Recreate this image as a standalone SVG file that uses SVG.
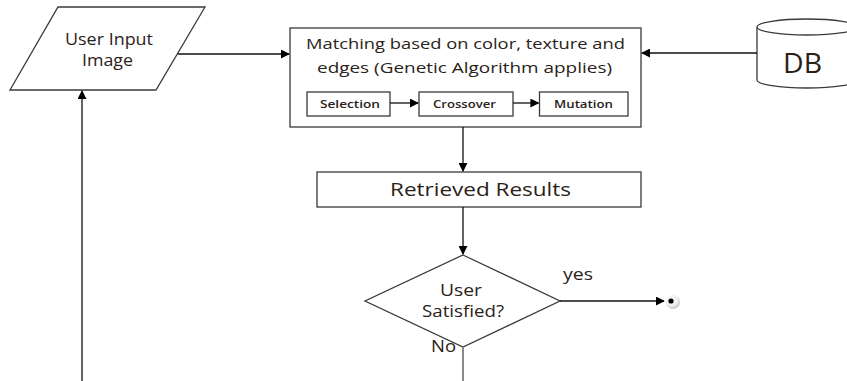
<svg xmlns="http://www.w3.org/2000/svg" width="847" height="381" viewBox="0 0 847 381">
  <style>
    .shape { fill: #ffffff; stroke: #3a3a3a; stroke-width: 1.3; }
    .edge { fill: none; stroke: #111111; stroke-width: 1.3; }
    .edge-grey { fill: none; stroke: #8a8a8a; stroke-width: 2; }
    .label { font-family: "Open Sans", "Liberation Sans", sans-serif; fill: #2a2218; text-anchor: middle; }
    .step { font-weight: 600; font-size: 11.5px; }
  </style>
  <defs>
    <marker id="arrow" viewBox="0 0 10 10" refX="9" refY="5" markerWidth="9" markerHeight="9" markerUnits="userSpaceOnUse" orient="auto">
      <path d="M0,0 L10,5 L0,10 Z" fill="#000000"/>
    </marker>
    <radialGradient id="endShade" cx="0.4" cy="0.35" r="0.7">
      <stop offset="0" stop-color="#ffffff"/>
      <stop offset="0.6" stop-color="#eeeeee"/>
      <stop offset="1" stop-color="#bdbdbd"/>
    </radialGradient>
  </defs>

  <!-- input parallelogram -->
  <g id="user-input">
    <polygon class="shape" points="58,7 205,7 156,90 10,90"/>
    <text class="label" x="109" y="45" font-size="16" textLength="88" lengthAdjust="spacingAndGlyphs">User Input</text>
    <text class="label" x="107.5" y="66" font-size="16" textLength="51" lengthAdjust="spacingAndGlyphs">Image</text>
  </g>

  <!-- matching process -->
  <g id="matching">
    <rect class="shape" x="290" y="28" width="351" height="99"/>
    <text class="label" x="465.5" y="48.5" font-size="15" textLength="319" lengthAdjust="spacingAndGlyphs">Matching based on color, texture and</text>
    <text class="label" x="464.5" y="73" font-size="15" textLength="295" lengthAdjust="spacingAndGlyphs">edges (Genetic Algorithm applies)</text>
  </g>
  <g id="selection">
    <rect class="shape" x="307" y="92" width="83" height="24"/>
    <text class="label step" x="350" y="107.5" textLength="60" lengthAdjust="spacingAndGlyphs">Selection</text>
  </g>
  <g id="crossover">
    <rect class="shape" x="419" y="92" width="94" height="24"/>
    <text class="label step" x="464.5" y="107.5" textLength="63" lengthAdjust="spacingAndGlyphs">Crossover</text>
  </g>
  <g id="mutation">
    <rect class="shape" x="539.5" y="92" width="88.5" height="24"/>
    <text class="label step" x="583.5" y="107.5" textLength="59" lengthAdjust="spacingAndGlyphs">Mutation</text>
  </g>

  <!-- database -->
  <g id="db">
    <path class="shape" d="M757,27 L757,80 A50,8 0 0 0 857,80 L857,27"/>
    <ellipse class="shape" cx="807" cy="27" rx="50" ry="8"/>
    <text class="label" x="802.5" y="73" font-size="28" textLength="39" lengthAdjust="spacingAndGlyphs">DB</text>
  </g>

  <!-- results -->
  <g id="results">
    <rect class="shape" x="317" y="172" width="324" height="35"/>
    <text class="label" x="480.5" y="196" font-size="18" textLength="181" lengthAdjust="spacingAndGlyphs">Retrieved Results</text>
  </g>

  <!-- decision -->
  <g id="decision">
    <polygon class="shape" points="463,255 560,301 463,347 365,301"/>
    <text class="label" x="461" y="296" font-size="16" textLength="42" lengthAdjust="spacingAndGlyphs">User</text>
    <text class="label" x="463" y="317" font-size="16" textLength="82" lengthAdjust="spacingAndGlyphs">Satisfied?</text>
    <text class="label" x="578" y="280" font-size="16" textLength="30" lengthAdjust="spacingAndGlyphs">yes</text>
    <text class="label" x="443.5" y="352" font-size="16" textLength="25" lengthAdjust="spacingAndGlyphs">No</text>
  </g>

  <!-- end point -->
  <g id="end">
    <circle cx="673" cy="302" r="7" fill="url(#endShade)"/>
    <circle cx="671" cy="301" r="2.6" fill="#000000"/>
  </g>

  <!-- connectors -->
  <g id="connectors">
    <line class="edge" x1="178" y1="54" x2="289" y2="54" marker-end="url(#arrow)"/>
    <line class="edge" x1="757" y1="53" x2="642" y2="53" marker-end="url(#arrow)"/>
    <line class="edge" x1="390" y1="103" x2="418" y2="103" marker-end="url(#arrow)"/>
    <line class="edge" x1="513" y1="103" x2="538.5" y2="103" marker-end="url(#arrow)"/>
    <line class="edge" x1="463" y1="127" x2="463" y2="171" marker-end="url(#arrow)"/>
    <line class="edge" x1="463" y1="207" x2="463" y2="254" marker-end="url(#arrow)"/>
    <line class="edge" x1="560" y1="301" x2="664" y2="301" marker-end="url(#arrow)"/>
    <line class="edge-grey" x1="463" y1="347" x2="463" y2="381"/>
    <line class="edge" x1="82" y1="381" x2="82" y2="91" marker-end="url(#arrow)"/>
  </g>
</svg>
